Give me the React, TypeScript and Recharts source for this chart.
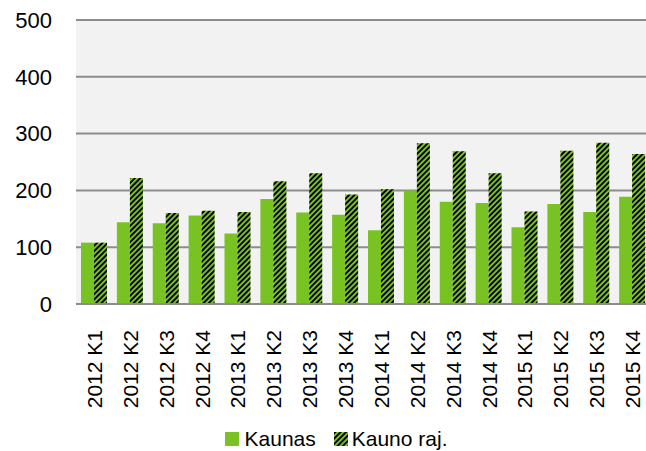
import { BarChart, Bar, XAxis, YAxis, CartesianGrid, Legend } from 'recharts';

const QUARTERS = [
  '2012 K1', '2012 K2', '2012 K3', '2012 K4',
  '2013 K1', '2013 K2', '2013 K3', '2013 K4',
  '2014 K1', '2014 K2', '2014 K3', '2014 K4',
  '2015 K1', '2015 K2', '2015 K3', '2015 K4',
];
const KAUNAS = [108, 144, 142, 156, 124, 185, 161, 157, 130, 200, 180, 178, 135, 176, 162, 189];
const KAUNO_RAJ = [108, 222, 160, 164, 162, 216, 230, 193, 202, 283, 269, 230, 163, 270, 284, 264];
const Y_TICKS = [0, 100, 200, 300, 400, 500];

const GREEN = '#78c323';
const FONT = '"Liberation Sans", Arial, sans-serif';

const data = QUARTERS.map((q, i) => ({ q, kaunas: KAUNAS[i], raj: KAUNO_RAJ[i] }));

// x labels are turned upright, text ends just under the axis
const QuarterTick = ({ x, y, payload }: any) => (
  <text
    x={0}
    y={0}
    transform={`translate(${x + 8},${y + 18}) rotate(-90)`}
    textAnchor="end"
    fontSize={21}
    fontFamily={FONT}
    fill="#000"
  >
    {payload.value}
  </text>
);

const LegendBox = () => (
  <div style={{ display: 'flex', justifyContent: 'center', alignItems: 'center', fontFamily: FONT, fontSize: 21, color: '#000', paddingLeft: 22 }}>
    <svg width={14} height={14} style={{ marginRight: 6 }}>
      <rect width={14} height={14} fill={GREEN} />
    </svg>
    <span style={{ marginRight: 18 }}>Kaunas</span>
    <svg width={14} height={14} style={{ marginRight: 4 }}>
      <rect width={14} height={14} fill="url(#hatch)" />
    </svg>
    <span>Kauno raj.</span>
  </div>
);

export default function App() {
  return (
    <div style={{ position: 'fixed', left: 0, top: 0, width: 646, height: 451, overflow: 'hidden', background: '#fff' }}>
      <BarChart
        width={660}
        height={451}
        data={data}
        margin={{ top: 20, right: 10, left: 0, bottom: 0 }}
        barSize={13}
        barGap={0}
      >
        <defs>
          <pattern id="hatch" patternUnits="userSpaceOnUse" width={3.8} height={3.8} patternTransform="rotate(45)">
            <rect width={3.8} height={3.8} fill={GREEN} />
            <rect width={1.9} height={3.8} fill="#000" />
          </pattern>
        </defs>
        <CartesianGrid vertical={false} fill="#f2f2f2" stroke="#8c8c8c" strokeWidth={2} />
        <XAxis
          dataKey="q"
          interval={0}
          tick={<QuarterTick />}
          tickLine={false}
          axisLine={{ stroke: '#8c8c8c', strokeWidth: 2 }}
          height={123}
        />
        <YAxis
          domain={[0, 500]}
          ticks={Y_TICKS}
          width={76}
          tickLine={false}
          axisLine={false}
          tickSize={0}
          tickMargin={24}
          tick={{ fontSize: 22, fontFamily: FONT, fill: '#000' }}
        />
        <Legend content={<LegendBox />} verticalAlign="bottom" wrapperStyle={{ bottom: 0 }} />
        <Bar dataKey="kaunas" name="Kaunas" fill={GREEN} isAnimationActive={false} />
        <Bar dataKey="raj" name="Kauno raj." fill="url(#hatch)" isAnimationActive={false} />
      </BarChart>
    </div>
  );
}
